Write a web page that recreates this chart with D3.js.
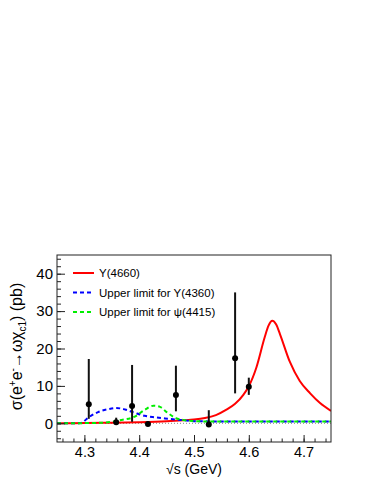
<!DOCTYPE html>
<html lang="en">
  <head>
    <meta charset="utf-8">
    <title>omega chi_c1 cross section</title>
    <script src="https://cdn.jsdelivr.net/npm/d3@7"></script>
    <style>
      body { margin: 0; background: #fff; }
      svg text { font-family: "Liberation Sans", Arial, Helvetica, sans-serif; }
    </style>
  </head>
  <body>
    <div id="chart"></div>
    <script>
// measured points: sqrt(s), sigma, lower and upper end of the error bar
var energies = [4.308, 4.358, 4.387, 4.416, 4.467, 4.527, 4.575, 4.600];
var sigma    = [5.1, 0.3, 4.6, -0.2, 7.6, -0.3, 17.4, 9.8];
var errLow   = [1.2, -0.4, 0.4, -0.6, 3.2, -0.6, 8.0, 7.6];
var errHigh  = [17.2, 1.5, 15.6, 0.5, 15.4, 3.5, 35.0, 12.2];

// fitted Y(4660) line
var fitX = [4.25, 4.30, 4.35, 4.40, 4.45, 4.48, 4.50, 4.52, 4.54, 4.56, 4.575, 4.59, 4.60, 4.614, 4.629, 4.636, 4.643, 4.650, 4.657, 4.675, 4.693, 4.712, 4.73, 4.75];
var fitY = [0.0, 0.05, 0.15, 0.3, 0.55, 0.8, 1.0, 1.4, 2.2, 3.7, 5.2, 7.6, 9.9, 15.0, 23.0, 26.1, 27.4, 26.4, 23.8, 16.4, 11.3, 8.0, 5.4, 3.3];

// upper limit for Y(4360)
var y4360X = [4.25, 4.29, 4.297, 4.307, 4.325, 4.344, 4.358, 4.374, 4.392, 4.41, 4.428, 4.447, 4.468, 4.49, 4.51, 4.55, 4.75];
var y4360Y = [0.0, 0.0, 0.3, 1.5, 3.0, 3.8, 4.1, 3.7, 2.8, 2.0, 1.6, 1.3, 1.0, 0.7, 0.55, 0.5, 0.5];

// upper limit for psi(4415)
var psiX = [4.25, 4.32, 4.35, 4.368, 4.392, 4.41, 4.426, 4.438, 4.45, 4.467, 4.48, 4.50, 4.52, 4.75];
var psiY = [0.0, 0.1, 0.4, 0.9, 1.8, 3.6, 4.7, 4.4, 3.0, 1.4, 0.9, 0.6, 0.5, 0.5];

var xTicks = [4.3, 4.4, 4.5, 4.6, 4.7];
var yTicks = [0, 10, 20, 30, 40];
var legendNames = ["Y(4660)", "Upper limit for Y(4360)", "Upper limit for \u03c8(4415)"];

var width = 374, height = 484;
var margin = {top: 255, right: 43, bottom: 42, left: 57};
var plotW = width - margin.left - margin.right,
    plotH = height - margin.top - margin.bottom;

var svg = d3.select("#chart").append("svg")
    .attr("width", width)
    .attr("height", height);

var g = svg.append("g")
    .attr("transform", "translate(" + margin.left + "," + margin.top + ")");

var x = d3.scaleLinear().domain([4.25, 4.75]).range([0, plotW]);
var y = d3.scaleLinear().domain([-5, 45]).range([plotH, 0]);

var defs = svg.append("defs");
defs.append("clipPath").attr("id", "clip")
  .append("rect").attr("width", plotW).attr("height", plotH);

// zero line
g.append("line")
    .attr("x1", 0).attr("x2", plotW)
    .attr("y1", y(0)).attr("y2", y(0))
    .style("stroke", "#888")
    .style("stroke-width", 1)
    .style("stroke-dasharray", "1,2");

var plot = g.append("g").attr("clip-path", "url(#clip)");

function curve(xs, ys, color, dash) {
  var pts = xs.map(function(d, i) { return [d, ys[i]]; });
  var line = d3.line()
      .x(function(d) { return x(d[0]); })
      .y(function(d) { return y(d[1]); })
      .curve(d3.curveMonotoneX);
  plot.append("path")
      .datum(pts)
      .attr("d", line)
      .style("fill", "none")
      .style("stroke", color)
      .style("stroke-width", 2)
      .style("stroke-dasharray", dash);
}

curve(fitX, fitY, "#ff0000", null);
curve(y4360X, y4360Y, "#0000ff", "4,3");
curve(psiX, psiY, "#00ee00", "4,3");

// data points
var pts = energies.map(function(e, i) {
  return {x: e, y: sigma[i], lo: errLow[i], hi: errHigh[i]};
});

plot.selectAll(".err")
    .data(pts)
  .enter().append("line")
    .attr("class", "err")
    .attr("x1", function(d) { return x(d.x); })
    .attr("x2", function(d) { return x(d.x); })
    .attr("y1", function(d) { return y(d.lo); })
    .attr("y2", function(d) { return y(d.hi); })
    .style("stroke", "#111")
    .style("stroke-width", 2);

plot.selectAll(".pt")
    .data(pts)
  .enter().append("circle")
    .attr("class", "pt")
    .attr("cx", function(d) { return x(d.x); })
    .attr("cy", function(d) { return y(d.y); })
    .attr("r", 3)
    .style("fill", "#000");

// axes, ticks inside the frame like ROOT
var xMinor = d3.range(4.26, 4.75, 0.02);
var yMinor = d3.range(-4, 45, 2);

var xAxis = g.append("g")
    .attr("transform", "translate(0," + plotH + ")")
    .call(d3.axisBottom(x).tickValues(xTicks).tickSize(-7).tickPadding(5)
      .tickFormat(d3.format(".1f")));
g.append("g")
    .attr("transform", "translate(0," + plotH + ")")
    .call(d3.axisBottom(x).tickValues(xMinor).tickSize(-3.5).tickFormat(""));

var yAxis = g.append("g")
    .call(d3.axisLeft(y).tickValues(yTicks).tickSize(-8).tickPadding(4));
g.append("g")
    .call(d3.axisLeft(y).tickValues(yMinor).tickSize(-4).tickFormat(""));

g.selectAll(".domain").remove();
g.selectAll(".tick line").style("stroke", "#222");
xAxis.selectAll("text").style("font-size", "14.5px").style("fill", "#000");
yAxis.selectAll("text").style("font-size", "15px").style("fill", "#000");

// frame
g.append("rect")
    .attr("width", plotW)
    .attr("height", plotH)
    .style("fill", "none")
    .style("stroke", "#222")
    .style("stroke-width", 1);

// axis titles
svg.append("text")
    .attr("x", margin.left + plotW / 2)
    .attr("y", 474)
    .attr("text-anchor", "middle")
    .style("font-size", "14px")
    .text("\u221as (GeV)");

var yt = svg.append("text")
    .attr("transform", "translate(22," + (margin.top + plotH / 2 - 2) + ") rotate(-90)")
    .attr("text-anchor", "middle")
    .style("font-size", "16px");
yt.append("tspan").text("\u03c3(e");
yt.append("tspan").attr("dy", -6).style("font-size", "10px").text("+");
yt.append("tspan").attr("dy", 6).text("e");
yt.append("tspan").attr("dy", -6).style("font-size", "10px").text("-");
yt.append("tspan").attr("dy", 6).text("\u2192\u03c9\u03c7");
yt.append("tspan").attr("dy", 4).style("font-size", "10px").text("c1");
yt.append("tspan").attr("dy", -4).text(") (pb)");

// legend
var legColors = ["#ff0000", "#0000ff", "#00ee00"];
var legDash = [null, "4,3", "4,3"];
var leg = svg.append("g").attr("transform", "translate(73,273)");
legendNames.forEach(function(name, i) {
  var row = leg.append("g").attr("transform", "translate(0," + (i * 19.5) + ")");
  row.append("line")
      .attr("x1", 0).attr("x2", 21)
      .style("stroke", legColors[i])
      .style("stroke-width", 2)
      .style("stroke-dasharray", legDash[i]);
  row.append("text")
      .attr("x", 26)
      .attr("dy", "0.35em")
      .style("font-size", "11.5px")
      .text(name);
});
    </script>
  </body>
</html>
